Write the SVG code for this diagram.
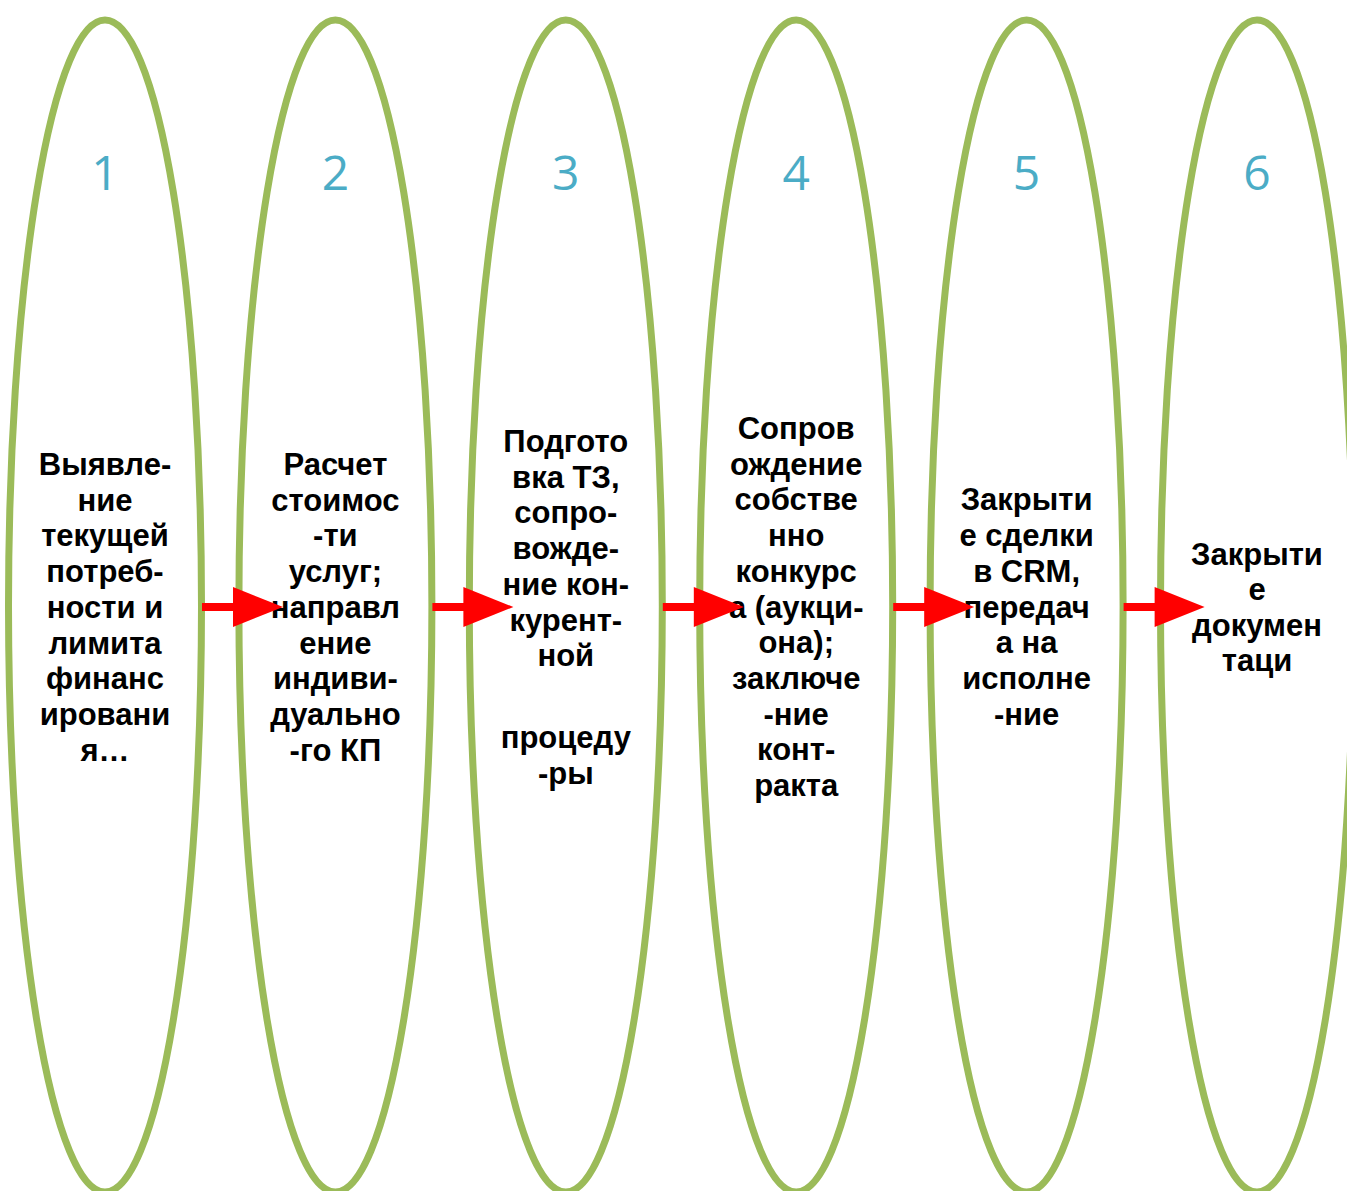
<svg xmlns="http://www.w3.org/2000/svg" width="1347" height="1191" viewBox="0 0 1347 1191">
<style>
.ell{fill:none;stroke:#9BBB59;stroke-width:7}
.num{font-family:"Open Sans","Liberation Sans",sans-serif;font-size:48px;fill:#4BACC6;text-anchor:middle}
.lbl{font-family:"Liberation Sans",Arial,sans-serif;font-weight:bold;font-size:31px;fill:#000;text-anchor:middle}
.arr{fill:#FF0000;stroke:none}
</style>
<defs>
<g id="arrow"><rect x="0" y="603" width="34" height="8"/><polygon points="31,587 31,627 81,607"/></g>
</defs>
<rect width="1347" height="1191" fill="#fff"/>
<g id="node1">
<ellipse class="ell" cx="105" cy="606" rx="96.5" ry="586"/>
<text class="num" x="105" y="190">1</text>
<text class="lbl"><tspan x="105" y="475">Выявле-</tspan><tspan x="105" y="510.7">ние</tspan><tspan x="105" y="546.4">текущей</tspan><tspan x="105" y="582.1">потреб-</tspan><tspan x="105" y="617.8">ности и</tspan><tspan x="105" y="653.5">лимита</tspan><tspan x="105" y="689.2">финанс</tspan><tspan x="105" y="724.9">ировани</tspan><tspan x="105" y="760.6">я…</tspan></text>
</g>
<g id="node2">
<ellipse class="ell" cx="335.4" cy="606" rx="96.5" ry="586"/>
<text class="num" x="335.4" y="190">2</text>
<text class="lbl"><tspan x="335.4" y="475">Расчет</tspan><tspan x="335.4" y="510.7">стоимос</tspan><tspan x="335.4" y="546.4">-ти</tspan><tspan x="335.4" y="582.1">услуг;</tspan><tspan x="335.4" y="617.8">направл</tspan><tspan x="335.4" y="653.5">ение</tspan><tspan x="335.4" y="689.2">индиви-</tspan><tspan x="335.4" y="724.9">дуально</tspan><tspan x="335.4" y="760.6">-го КП</tspan></text>
</g>
<g id="node3">
<ellipse class="ell" cx="565.8" cy="606" rx="96.5" ry="586"/>
<text class="num" x="565.8" y="190">3</text>
<text class="lbl"><tspan x="565.8" y="452">Подгото</tspan><tspan x="565.8" y="487.7">вка ТЗ,</tspan><tspan x="565.8" y="523.4">сопро-</tspan><tspan x="565.8" y="559.1">вожде-</tspan><tspan x="565.8" y="594.8">ние кон-</tspan><tspan x="565.8" y="630.5">курент-</tspan><tspan x="565.8" y="666.2">ной</tspan><tspan x="565.8" y="748">процеду</tspan><tspan x="565.8" y="783.7">-ры</tspan></text>
</g>
<g id="node4">
<ellipse class="ell" cx="796.2" cy="606" rx="96.5" ry="586"/>
<text class="num" x="796.2" y="190">4</text>
<text class="lbl"><tspan x="796.2" y="439">Сопров</tspan><tspan x="796.2" y="474.7">ождение</tspan><tspan x="796.2" y="510.4">собстве</tspan><tspan x="796.2" y="546.1">нно</tspan><tspan x="796.2" y="581.8">конкурс</tspan><tspan x="796.2" y="617.5">а (аукци-</tspan><tspan x="796.2" y="653.2">она);</tspan><tspan x="796.2" y="688.9">заключе</tspan><tspan x="796.2" y="724.6">-ние</tspan><tspan x="796.2" y="760.3">конт-</tspan><tspan x="796.2" y="796">ракта</tspan></text>
</g>
<g id="node5">
<ellipse class="ell" cx="1026.6" cy="606" rx="96.5" ry="586"/>
<text class="num" x="1026.6" y="190">5</text>
<text class="lbl"><tspan x="1026.6" y="510.4">Закрыти</tspan><tspan x="1026.6" y="546.1">е сделки</tspan><tspan x="1026.6" y="581.8">в CRM,</tspan><tspan x="1026.6" y="617.5">передач</tspan><tspan x="1026.6" y="653.2">а на</tspan><tspan x="1026.6" y="688.9">исполне</tspan><tspan x="1026.6" y="724.6">-ние</tspan></text>
</g>
<g id="node6">
<ellipse class="ell" cx="1257" cy="606" rx="96.5" ry="586"/>
<text class="num" x="1257" y="190">6</text>
<text class="lbl"><tspan x="1257" y="564.5">Закрыти</tspan><tspan x="1257" y="600">е</tspan><tspan x="1257" y="635.5">докумен</tspan><tspan x="1257" y="671">таци</tspan></text>
</g>
<g id="connectors" class="arr">
<use href="#arrow" x="202"/>
<use href="#arrow" x="432.4"/>
<use href="#arrow" x="662.8"/>
<use href="#arrow" x="893.2"/>
<use href="#arrow" x="1123.6"/>
</g>
</svg>
